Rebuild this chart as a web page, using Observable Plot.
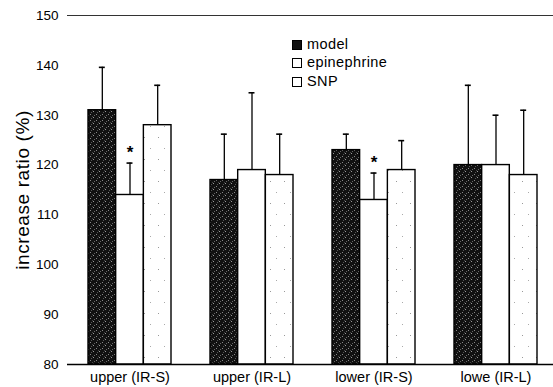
<!DOCTYPE html>
<html><head><meta charset="utf-8">
<script src="https://cdn.jsdelivr.net/npm/d3@7"></script>
<script src="https://cdn.jsdelivr.net/npm/@observablehq/plot@0.6"></script>
<style>
body{margin:0;background:#fff}
#wrap{position:relative;width:553px;height:387px;font-family:Arial,"Liberation Sans",sans-serif}
.leg{position:absolute;left:292px;font-size:14.5px;letter-spacing:0.4px;line-height:15px;color:#000;display:flex;align-items:center}
.sw{width:8px;height:8px;border:1.2px solid #000;margin-right:5px;box-sizing:content-box;background:#fff}
</style></head><body><div id="wrap"></div>
<script>
const groups = ["upper (IR-S)", "upper (IR-L)", "lower (IR-S)", "lowe (IR-L)"];
const series = ["model", "epinephrine", "SNP"];
const modelValues = [131, 117, 123, 120];
const modelErrTop = [139.6, 126.2, 126.2, 136];
const epiValues = [114, 119, 113, 120];
const epiErrTop = [120.4, 134.5, 118.4, 130];
const snpValues = [128, 118, 119, 118];
const snpErrTop = [136, 126.2, 124.9, 131];
const epiSignificant = [true, false, true, false];
const yTicks = [80, 90, 100, 110, 120, 130, 140, 150];

const valuesBySeries = [modelValues, epiValues, snpValues];
const errBySeries = [modelErrTop, epiErrTop, snpErrTop];
const fills = ["url(#modelTex)", "#fff", "url(#snpTex)"];

const xRange = [67, 557];
const pad = 0.322;
const step = (xRange[1] - xRange[0]) / groups.length;
const bw = step * (1 - pad);
const w = bw / 3;

const marks = [];
series.forEach((s, i) => {
  const data = groups.map((g, j) => ({group: g, series: s, value: valuesBySeries[i][j], err: errBySeries[i][j]}));
  marks.push(Plot.barY(data, {x: "group", y1: 80, y2: "value", insetLeft: i * w, insetRight: (2 - i) * w, fill: fills[i], stroke: "#000", strokeWidth: 1.4}));
  marks.push(Plot.ruleX(data, {x: "group", y1: "value", y2: "err", dx: (i - 1) * w, stroke: "#000", strokeWidth: 1.3}));
  marks.push(Plot.tickY(data, {x: "group", y: "err", insetLeft: i * w + w / 2 - 3, insetRight: (2 - i) * w + w / 2 - 3, stroke: "#000", strokeWidth: 1.6}));
});
const starData = groups.map((g, j) => ({group: g, err: epiErrTop[j], sig: epiSignificant[j]})).filter(d => d.sig);
marks.push(Plot.text(starData, {x: "group", y: "err", text: () => "*", fontSize: 17, fontWeight: "bold", dy: -11, fill: "#000"}));

const chart = Plot.plot({
  width: 553,
  height: 387,
  marginLeft: 67,
  marginRight: 0,
  marginTop: 15,
  marginBottom: 23,
  style: {fontFamily: "Arial, 'Liberation Sans', sans-serif", background: "#fff", color: "#000"},
  x: {domain: groups, range: xRange, paddingInner: pad, paddingOuter: pad / 2, label: null},
  y: {domain: [80, 150], label: null},
  marks: [
    ...marks,
    Plot.ruleY([150], {stroke: "#333", strokeWidth: 1}),
    Plot.ruleY([80], {stroke: "#000", strokeWidth: 1.5}),
    Plot.ruleX([xRange[0]], {stroke: "#000", strokeWidth: 1.5}),
    Plot.axisY({ticks: yTicks, tickSize: 0, tickPadding: 9, fontSize: 13.5, label: null}),
    Plot.axisX({tickSize: 0, tickPadding: 7, fontSize: 14.5, label: null}),
    Plot.text(["increase ratio (%)"], {frameAnchor: "left", textAnchor: "middle", text: d => d, rotate: -90, dx: -45, fontSize: 19, fill: "#000", style: "letter-spacing:0.6px"})
  ]
});

// textures
const ns = "http://www.w3.org/2000/svg";
const defs = document.createElementNS(ns, "defs");
defs.innerHTML = `
<pattern id="modelTex" width="6" height="6" patternUnits="userSpaceOnUse">
  <rect width="6" height="6" fill="#111"/>
  <rect x="0" y="0" width="1" height="1" fill="#888"/>
  <rect x="3" y="3" width="1" height="1" fill="#999"/>
  <rect x="1" y="4" width="1" height="1" fill="#555"/>
  <rect x="4" y="1" width="1" height="1" fill="#666"/>
  <rect x="2" y="2" width="1" height="1" fill="#444"/>
</pattern>
<pattern id="snpTex" width="14" height="22" patternUnits="userSpaceOnUse">
  <rect width="14" height="22" fill="#fff"/>
  <rect x="4" y="5" width="1" height="1" fill="#999"/>
  <rect x="10" y="16" width="1" height="1" fill="#aaa"/>
</pattern>`;
chart.insertBefore(defs, chart.firstChild);
chart.querySelectorAll("text").forEach(t => { if (t.textContent === "increase ratio (%)") t.setAttribute("letter-spacing", "0.6"); });

const wrap = document.getElementById("wrap");
wrap.appendChild(chart);
const legendY = [45, 63, 82];
series.forEach((s, i) => {
  const d = document.createElement("div");
  d.className = "leg";
  d.style.top = (legendY[i] - 8) + "px";
  const sw = document.createElement("span");
  sw.className = "sw";
  if (i === 0) sw.style.background = "#111";
  d.appendChild(sw);
  d.appendChild(document.createTextNode(s));
  wrap.appendChild(d);
});
</script>
</body></html>
